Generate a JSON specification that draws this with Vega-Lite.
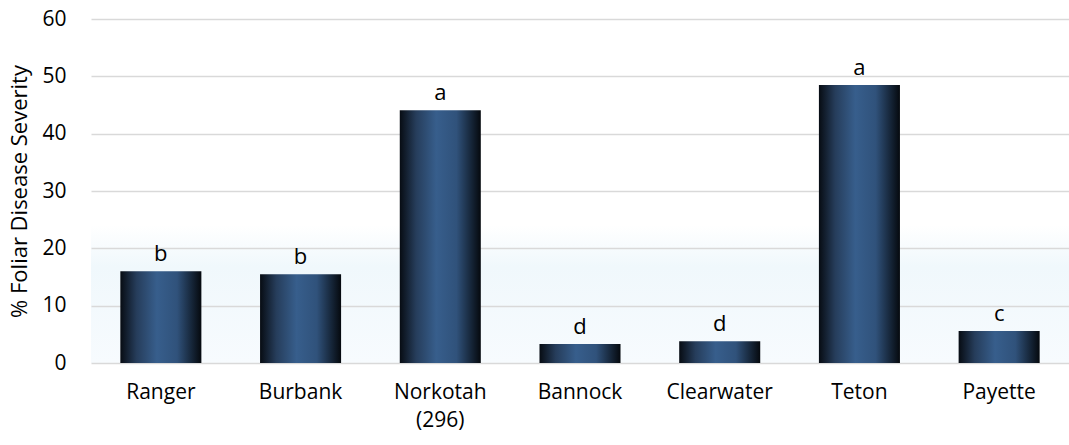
{
  "$schema": "https://vega.github.io/schema/vega-lite/v6.json",
  "width": 978,
  "height": 344,
  "autosize": {"type": "none"},
  "padding": {"left": 91, "top": 19, "right": 0, "bottom": 82},
  "background": "#ffffff",
  "data": {
    "values": [
      {"cultivar": "Ranger", "severity": 16.0, "group": "b"},
      {"cultivar": "Burbank", "severity": 15.5, "group": "b"},
      {"cultivar": "Norkotah (296)", "severity": 44.1, "group": "a"},
      {"cultivar": "Bannock", "severity": 3.3, "group": "d"},
      {"cultivar": "Clearwater", "severity": 3.8, "group": "d"},
      {"cultivar": "Teton", "severity": 48.5, "group": "a"},
      {"cultivar": "Payette", "severity": 5.6, "group": "c"}
    ]
  },
  "encoding": {
    "x": {
      "field": "cultivar",
      "type": "nominal",
      "sort": null,
      "scale": {"paddingInner": 0.42, "paddingOuter": 0.21},
      "axis": {
        "title": null,
        "labelAngle": 0,
        "domain": false,
        "ticks": false,
        "labelPadding": 18,
        "labelFont": "Open Sans",
        "labelFontSize": 21,
        "labelColor": "#000000",
        "labelLineHeight": 28,
        "labelExpr": "datum.label == 'Norkotah (296)' ? ['Norkotah', '(296)'] : datum.label"
      }
    },
    "y": {
      "field": "severity",
      "type": "quantitative",
      "scale": {"domain": [0, 60]},
      "axis": {
        "values": [0, 10, 20, 30, 40, 50, 60],
        "title": "% Foliar Disease Severity",
        "titleFont": "Open Sans",
        "titleFontSize": 22,
        "titleFontWeight": "normal",
        "titleColor": "#000000",
        "titlePadding": 10,
        "domain": false,
        "ticks": false,
        "labelPadding": 25,
        "labelFont": "Open Sans",
        "labelFontSize": 21,
        "labelColor": "#000000",
        "gridColor": "#d9d9d9",
        "gridWidth": 1.5
      }
    }
  },
  "layer": [
    {
      "mark": {
        "type": "bar",
        "fill": {
          "gradient": "linear",
          "x1": 0, "x2": 1, "y1": 0, "y2": 0,
          "stops": [
            {"offset": 0, "color": "#070c13"},
            {"offset": 0.2, "color": "#263d5b"},
            {"offset": 0.45, "color": "#375e8c"},
            {"offset": 0.7, "color": "#30527b"},
            {"offset": 1, "color": "#05090e"}
          ]
        }
      }
    },
    {
      "mark": {
        "type": "text",
        "baseline": "bottom",
        "dy": -5,
        "font": "Open Sans",
        "fontSize": 22,
        "color": "#000000"
      },
      "encoding": {"text": {"field": "group"}}
    }
  ],
  "config": {
    "view": {
      "stroke": null,
      "fill": {
        "gradient": "linear",
        "x1": 0, "x2": 0, "y1": 0, "y2": 1,
        "stops": [
          {"offset": 0, "color": "#ffffff"},
          {"offset": 0.6, "color": "#ffffff"},
          {"offset": 0.72, "color": "#f0f8fc"},
          {"offset": 1, "color": "#f7fbfe"}
        ]
      }
    }
  }
}
